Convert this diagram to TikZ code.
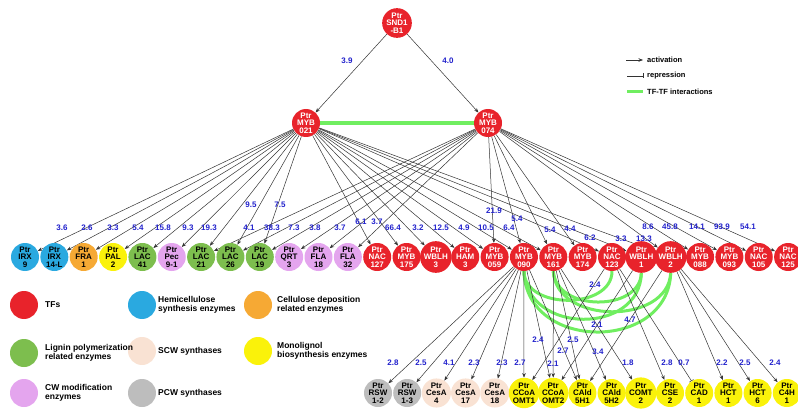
\documentclass[tikz,border=0pt]{standalone}
\usepackage{fontspec}
\setmainfont{Liberation Sans}
\usetikzlibrary{arrows.meta,backgrounds}
\definecolor{cred}{HTML}{E8232B}
\definecolor{cblue}{HTML}{2AA9E0}
\definecolor{corange}{HTML}{F6A934}
\definecolor{cyellow}{HTML}{FAF20A}
\definecolor{cgreen}{HTML}{7DBE4E}
\definecolor{cpink}{HTML}{E4A5EE}
\definecolor{cpeach}{HTML}{F9E2D3}
\definecolor{cgray}{HTML}{BDBDBD}
\definecolor{labblue}{HTML}{2222CC}
\definecolor{tfgreen}{HTML}{70EE60}
\tikzset{
  gn/.style={circle, minimum size=28pt, inner sep=0pt, align=center, text=black,
    font=\bfseries\fontsize{8}{7.6}\selectfont},
  tf/.style={gn, fill=cred, text=white},
  hemi/.style={gn, fill=cblue},
  cell/.style={gn, fill=corange},
  mono/.style={gn, fill=cyellow},
  lig/.style={gn, fill=cgreen},
  cw/.style={gn, fill=cpink},
  scw/.style={gn, fill=cpeach},
  pcw/.style={gn, fill=cgray},
  act/.style={draw=black!80, line width=0.5pt, -{Stealth[length=4.5pt,width=3.5pt]}},
  rep/.style={draw=black!80, line width=0.5pt, -{Bar[width=5pt]}},
  ppi/.style={draw=tfgreen, line width=3pt},
  lab/.style={text=labblue, inner sep=0pt, font=\bfseries\fontsize{8}{8}\selectfont},
  legt/.style={anchor=west, align=left, inner sep=0pt, font=\bfseries\fontsize{8.5}{9.5}\selectfont},
  legs/.style={anchor=west, inner sep=0pt, font=\bfseries\fontsize{7.5}{8}\selectfont},
}
\begin{document}
\begin{tikzpicture}[x=1pt,y=-1pt]
\useasboundingbox (0,0) rectangle (798,417);
% top TFs
\node[tf] (SND1) at (397,23) {Ptr\\SND1\\-B1};
\node[tf] (M021) at (306,123) {Ptr\\MYB\\021};
\node[tf] (M074) at (488,123) {Ptr\\MYB\\074};
% middle row
\foreach \nm/\txt/\sty [count=\i from 0] in {
  IRX9/{Ptr\\IRX\\9}/hemi, IRX14L/{Ptr\\IRX\\14-L}/hemi, FRA1/{Ptr\\FRA\\1}/cell,
  PAL2/{Ptr\\PAL\\2}/mono, LAC41/{Ptr\\LAC\\41}/lig, Pec91/{Ptr\\Pec\\9-1}/cw,
  LAC21/{Ptr\\LAC\\21}/lig, LAC26/{Ptr\\LAC\\26}/lig, LAC19/{Ptr\\LAC\\19}/lig,
  QRT3/{Ptr\\QRT\\3}/cw, FLA18/{Ptr\\FLA\\18}/cw, FLA32/{Ptr\\FLA\\32}/cw,
  NAC127/{Ptr\\NAC\\127}/tf, MYB175/{Ptr\\MYB\\175}/tf, WBLH3/{Ptr\\WBLH\\3}/tf,
  HAM3/{Ptr\\HAM\\3}/tf, MYB059/{Ptr\\MYB\\059}/tf, MYB090/{Ptr\\MYB\\090}/tf,
  MYB161/{Ptr\\MYB\\161}/tf, MYB174/{Ptr\\MYB\\174}/tf, NAC123/{Ptr\\NAC\\123}/tf,
  WBLH1/{Ptr\\WBLH\\1}/tf, WBLH2/{Ptr\\WBLH\\2}/tf, MYB088/{Ptr\\MYB\\088}/tf,
  MYB093/{Ptr\\MYB\\093}/tf, NAC105/{Ptr\\NAC\\105}/tf, NAC125/{Ptr\\NAC\\125}/tf}
  \node[\sty] (\nm) at ({25+29.35*\i},257) {\txt};
% bottom row
\foreach \nm/\txt/\sty [count=\i from 0] in {
  RSW12/{Ptr\\RSW\\1-2}/pcw, RSW13/{Ptr\\RSW\\1-3}/pcw, CesA4/{Ptr\\CesA\\4}/scw,
  CesA17/{Ptr\\CesA\\17}/scw, CesA18/{Ptr\\CesA\\18}/scw, CCoA1/{Ptr\\CCoA\\OMT1}/mono,
  CCoA2/{Ptr\\CCoA\\OMT2}/mono, CAld1/{Ptr\\CAld\\5H1}/mono, CAld2/{Ptr\\CAld\\5H2}/mono,
  COMT2/{Ptr\\COMT\\2}/mono, CSE2/{Ptr\\CSE\\2}/mono, CAD1/{Ptr\\CAD\\1}/mono,
  HCT1/{Ptr\\HCT\\1}/mono, HCT6/{Ptr\\HCT\\6}/mono, C4H1/{Ptr\\C4H\\1}/mono}
  \node[\sty] (\nm) at ({378+29.2*\i},393) {\txt};
% legend circles
\node[tf] (LgTF) at (24,305) {};
\node[lig] (LgLig) at (24,353) {};
\node[cw] (LgCW) at (24,393) {};
\node[hemi] (LgHemi) at (142,305) {};
\node[scw] (LgSCW) at (142,351) {};
\node[pcw] (LgPCW) at (142,393) {};
\node[cell] (LgCell) at (258,305) {};
\node[mono] (LgMono) at (258,351) {};
\node[legt] (TxTF) at (45,305) {TFs};
\node[legt] (TxLig) at (45,353) {Lignin polymerization\\related enzymes};
\node[legt] (TxCW) at (45,393) {CW modification\\enzymes};
\node[legt] (TxHemi) at (158,305) {Hemicellulose\\synthesis enzymes};
\node[legt] (TxSCW) at (158,351) {SCW synthases};
\node[legt] (TxPCW) at (158,393) {PCW synthases};
\node[legt] (TxCell) at (277,305) {Cellulose deposition\\related enzymes};
\node[legt] (TxMono) at (277,351) {Monolignol\\biosynthesis enzymes};
% key
\coordinate (ka1) at (626,60); \coordinate (ka2) at (643,60);
\coordinate (kr1) at (627,76); \coordinate (kr2) at (643,76);
\coordinate (kg1) at (627,92); \coordinate (kg2) at (643,92);
\draw[act] (ka1) -- (ka2);
\draw[rep] (kr1) -- (kr2);
\draw[ppi] (kg1) -- (kg2);
\node[legs] (kt1) at (647,60) {activation};
\node[legs] (kt2) at (647,76) {repression};
\node[legs] (kt3) at (647,92) {TF-TF interactions};

\begin{scope}[on background layer]
\draw[act] (SND1) -- (M021);
\draw[act] (SND1) -- (M074);
\draw[ppi, line width=3.5pt] (M021) -- (M074);
\foreach \t in {IRX9,IRX14L,FRA1,PAL2,LAC41,Pec91,LAC21,LAC26,LAC19,NAC127,MYB175,WBLH3,HAM3,MYB059,MYB090,MYB161,NAC123,WBLH1,WBLH2}
  \draw[act] (M021) -- (\t);
\foreach \t in {LAC21,LAC26,LAC19,QRT3,FLA18,FLA32,MYB059,MYB090,MYB161,MYB174,WBLH2,MYB088,MYB093,NAC105,NAC125}
  \draw[act] (M074) -- (\t);
% TF-TF arcs
\draw[ppi] (MYB090.south) .. controls (526,352) and (668,352) .. (WBLH2.south);
\draw[ppi] (MYB090.south) .. controls (527,335) and (640,335) .. (WBLH1.south);
\draw[ppi] (MYB161.south) .. controls (556,325) and (668,325) .. (WBLH2.south);
\draw[ppi] (MYB161.south) .. controls (556,312) and (640,312) .. (WBLH1.south);
\draw[ppi] (MYB090.south) .. controls (524,310) and (612,310) .. (NAC123.south);
% bottom edges
\foreach \t in {RSW12,RSW13,CesA4,CesA17,CesA18,CCoA1,CCoA2,CAld1}
  \draw[act] (MYB090) -- (\t);
\foreach \t in {CCoA2,CAld1,CAld2,COMT2}
  \draw[act] (MYB161) -- (\t);
\draw[act] (NAC123) -- (CCoA1);
\draw[act] (NAC123) -- (CSE2);
\draw[rep] (NAC123) -- (CAD1);
\draw[act] (WBLH1) -- (CCoA2);
\foreach \t in {CAld1,HCT1,HCT6,C4H1}
  \draw[act] (WBLH2) -- (\t);
\end{scope}

% edge labels
\node[lab] (e1) at (347,61) {3.9};
\node[lab] (e2) at (448,61) {4.0};
\foreach \v/\x/\y [count=\k] in {3.6/62/228, 2.6/87/228, 3.3/113/228, 5.4/138/228, 15.8/163/228,
  9.3/188/228, 19.3/209/228, 9.5/251/205, 7.5/280/205, 4.1/249/228, 38.3/272/228, 7.3/294/228,
  3.8/315/228, 3.7/340/228, 6.1/361/222, 3.7/377/222, 66.4/393/228, 3.2/418/228, 12.5/441/228,
  4.9/464/228, 10.5/486/228, 21.9/494/211, 6.4/509/228, 5.4/517/219, 5.4/550/230, 4.4/570/229,
  6.2/590/238, 3.3/621/239, 13.3/644/239, 8.6/648/227, 45.8/670/227, 14.1/697/227, 93.9/722/227,
  54.1/748/227}
  \node[lab] (m\k) at (\x,\y) {\v};
\foreach \v/\x/\y [count=\k] in {2.8/393/363, 2.5/421/363, 4.1/449/363, 2.3/474/363, 2.3/502/363,
  2.7/520/363, 2.1/553/364, 1.8/628/363, 2.8/667/363, 0.7/684/363, 2.2/722/363, 2.5/745/363,
  2.4/775/363, 2.4/595/285, 2.1/597/325, 4.7/630/320, 2.4/538/340, 2.5/573/340, 2.7/563/351,
  3.4/598/352}
  \node[lab] (b\k) at (\x,\y) {\v};
\end{tikzpicture}
\end{document}
